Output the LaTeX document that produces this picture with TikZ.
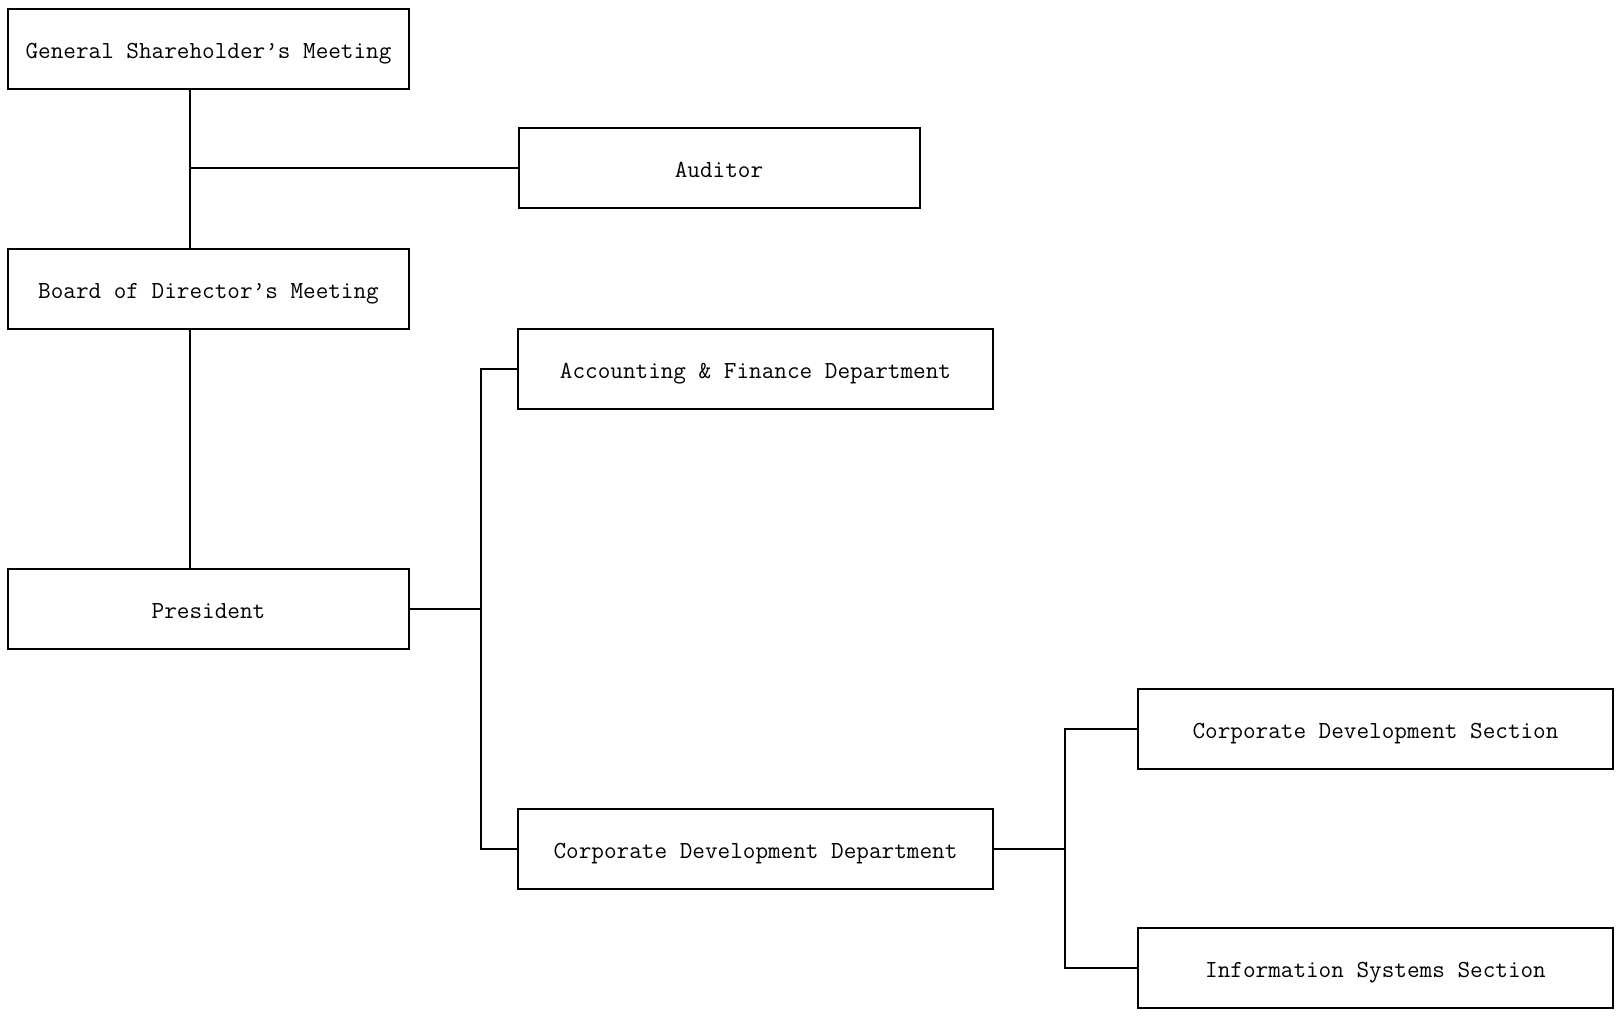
\documentclass[tikz,border=0pt]{standalone}
\usepackage{tikz}

\begin{document}
\begin{tikzpicture}[x=0.5pt, y=-0.5pt,
        unit/.style={draw, line width=1pt, minimum height=40pt, inner sep=0pt,
            text height=9.5pt, text depth=0pt,
            font=\ttfamily\fontsize{12.25}{14}\selectfont},
        wide/.style={unit, minimum width=200.5pt},
        wider/.style={unit, minimum width=237.5pt},
        link/.style={line width=1pt}]
            \useasboundingbox (0, 0) rectangle (1620, 1016);

            % Governing bodies
            \node [wide] (gsm) at (208.5, 49) {General Shareholder’s Meeting};
            \node [wide] (aud) at (719, 168.5) {Auditor};
            \node [wide] (bod) at (208.5, 289) {Board of Director’s Meeting};
            \node [wide] (pres) at (208.5, 608.5) {President};

            % Departments and sections
            \node [wider] (acc) at (755.5, 369) {Accounting \& Finance Department};
            \node [wider] (cdd) at (755.5, 848.5) {Corporate Development Department};
            \node [wider] (cds) at (1375.5, 728.5) {Corporate Development Section};
            \node [wider] (iss) at (1375.5, 968) {Information Systems Section};

            % Bus lines
            \coordinate (spine) at (190, 0);
            \coordinate (deptbus) at (481, 0);
            \coordinate (sectbus) at (1065, 0);

            % Top chain
            \draw [link] (gsm.south -| spine) -- (bod.north -| spine);
            \draw [link] (aud.west -| spine) -- (aud.west);
            \draw [link] (bod.south -| spine) -- (pres.north -| spine);

            % President to departments
            \draw [link] (pres.east) -- (pres.east -| deptbus);
            \draw [link] (acc.west) -| (deptbus |- cdd.west) -- (cdd.west);

            % Department to sections
            \draw [link] (cdd.east) -- (cdd.east -| sectbus);
            \draw [link] (cds.west) -| (sectbus |- iss.west) -- (iss.west);
        \end{tikzpicture}
\end{document}
